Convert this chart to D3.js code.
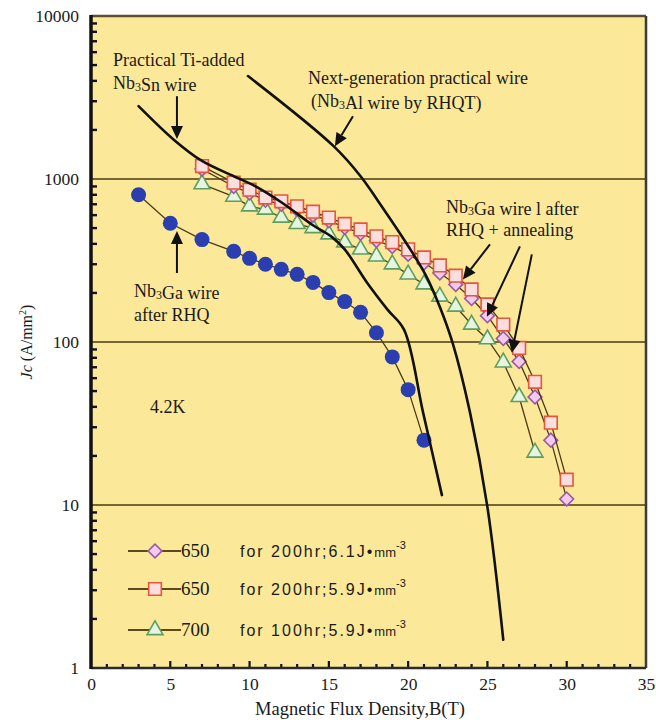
<!DOCTYPE html>
<html>
<head>
<meta charset="utf-8">
<script src="https://cdn.jsdelivr.net/npm/d3@7"></script>
<style>
body { margin: 0; background: #fff; }
</style>
</head>
<body>
<svg width="656" height="720" style='font-family: "Liberation Serif", "Times New Roman", serif;'></svg>
<script>
// Nb3Ga wire after RHQ (blue circles)
var rhqB = [3, 5, 7, 9, 10, 11, 12, 13, 14, 15, 16, 17, 18, 19, 20, 21];
var rhqJ = [800, 535, 425, 360, 326, 300, 279, 260, 232, 201, 177, 152, 114, 81, 51, 25];

// 650 for 200hr, 5.9 J/mm3 (squares)
var sqB = [7, 9, 10, 11, 12, 13, 14, 15, 16, 17, 18, 19, 20, 21, 22, 23, 24, 25, 26, 27, 28, 29, 30];
var sqJ = [1200, 950, 860, 770, 730, 680, 630, 580, 530, 490, 445, 410, 370, 330, 295, 255, 210, 170, 128, 92, 57, 32, 14.3];

// 650 for 200hr, 6.1 J/mm3 (diamonds)
var diaB = [7, 9, 10, 11, 12, 13, 14, 15, 16, 17, 18, 19, 20, 21, 22, 23, 24, 25, 26, 27, 28, 29, 30];
var diaJ = [1150, 900, 820, 740, 700, 650, 600, 555, 505, 465, 420, 385, 345, 305, 265, 225, 185, 145, 105, 76, 46, 25, 10.9];

// 700 for 100hr, 5.9 J/mm3 (triangles)
var triB = [7, 9, 10, 11, 12, 13, 14, 15, 16, 17, 18, 19, 20, 21, 22, 23, 24, 25, 26, 27, 28];
var triJ = [930, 780, 680, 650, 580, 530, 500, 458, 408, 370, 335, 300, 260, 226, 190, 165, 128, 104, 75, 46, 21];

// practical Ti-added Nb3Sn wire (black curve)
var snB = [3, 5.2, 7, 9, 10.2, 12, 14, 15.2, 16, 17.4, 18.7, 19.74, 20.94, 22.13];
var snJ = [2800, 1750, 1290, 1040, 920, 720, 520, 440, 370, 232, 158, 119, 37, 11.5];

// next-generation Nb3Al wire by RHQT (black curve)
var alB = [9.9, 15.3, 17, 18.1, 20, 21.1, 22, 22.8, 23.9, 25, 26];
var alJ = [4280, 1590, 1040, 733, 388, 258, 164, 99, 37, 9.7, 1.49];

var xTicks = [0, 5, 10, 15, 20, 25, 30, 35];
var yTicks = [1, 10, 100, 1000, 10000];

var legendTemps = ['650', '650', '700'];
var legendTexts = ['for 200hr;6.1J\u2022', 'for 200hr;5.9J\u2022', 'for 100hr;5.9J\u2022'];

var serif = '"Liberation Serif", "Times New Roman", serif';
var sans = '"Liberation Sans", Arial, sans-serif';

var svg = d3.select('svg');

var x = d3.scaleLinear().domain([0, 35]).range([91, 646]);
var y = d3.scaleLog().domain([1, 10000]).range([668, 16]);

var zip = function(a, b) { return a.map(function(v, i) { return [v, b[i]]; }); };

// plot background
svg.append('rect')
    .attr('x', x(0)).attr('y', y(10000))
    .attr('width', x(35) - x(0)).attr('height', y(1) - y(10000))
    .attr('fill', '#fbe898');

// horizontal grid lines at 10, 100, 1000
svg.append('g').selectAll('line')
    .data([10, 100, 1000])
    .enter().append('line')
    .attr('x1', x(0)).attr('x2', x(35))
    .attr('y1', function(d) { return y(d); })
    .attr('y2', function(d) { return y(d); })
    .attr('stroke', '#4a3b12').attr('stroke-width', 1.6);

// minor ticks on left axis (inside)
var minorY = [];
[1, 10, 100, 1000].forEach(function(dec) {
    for (var k = 2; k <= 9; k++) minorY.push(dec * k);
});
svg.append('g').selectAll('line')
    .data(minorY)
    .enter().append('line')
    .attr('x1', x(0)).attr('x2', x(0) + 6)
    .attr('y1', function(d) { return y(d); })
    .attr('y2', function(d) { return y(d); })
    .attr('stroke', '#111').attr('stroke-width', 2.4);

// ticks on bottom axis (inside)
svg.append('g').selectAll('line')
    .data(d3.range(1, 35))
    .enter().append('line')
    .attr('x1', function(d) { return x(d); })
    .attr('x2', function(d) { return x(d); })
    .attr('y1', y(1))
    .attr('y2', function(d) { return y(1) - (d % 5 === 0 ? 7 : 4); })
    .attr('stroke', '#111').attr('stroke-width', 2.2);

// axes labels
var yAxis = d3.axisLeft(y).tickValues(yTicks).tickFormat(d3.format('d')).tickSize(0).tickPadding(12);
var yG = svg.append('g').attr('transform', 'translate(' + x(0) + ',0)').call(yAxis);
yG.select('.domain').remove();
yG.selectAll('text').style('font-size', '17.5px').style('font-family', serif).attr('fill', '#1a1a1a');

var xAxis = d3.axisBottom(x).tickValues(xTicks).tickSize(0).tickPadding(10);
var xG = svg.append('g').attr('transform', 'translate(0,' + y(1) + ')').call(xAxis);
xG.select('.domain').remove();
xG.selectAll('text').style('font-size', '17.5px').style('font-family', serif).attr('fill', '#1a1a1a');

svg.append('text')
    .attr('x', 360).attr('y', 715)
    .attr('text-anchor', 'middle')
    .style('font-size', '18.5px')
    .attr('fill', '#1a1a1a')
    .text('Magnetic Flux Density,B(T)');

var yl = svg.append('text')
    .attr('transform', 'translate(32,342) rotate(-90)')
    .attr('text-anchor', 'middle')
    .attr('fill', '#1a1a1a')
    .style('font-size', '16px');
yl.append('tspan').attr('font-style', 'italic').text('Jc');
yl.append('tspan').text(' (A/mm');
yl.append('tspan').style('font-size', '10px').attr('dy', -6).text('2');
yl.append('tspan').attr('dy', 6).text(')');

var line = d3.line()
    .x(function(d) { return x(d[0]); })
    .y(function(d) { return y(d[1]); });

var linkColor = '#4a3b1a';

// marker shapes
var sqPath = d3.symbol().type(d3.symbolSquare).size(160);
var triPath = d3.symbol().type(d3.symbolTriangle).size(110);
var diaPath = d3.symbol().type(d3.symbolSquare).size(95);
var circR = 7.5;

var styles = {
    dia: { fill: '#f3c9ef', stroke: '#9a5aa2' },
    sq: { fill: '#fcdede', stroke: '#e5563a' },
    tri: { fill: '#e6f4e2', stroke: '#5e9f5e' }
};

function drawSeries(data, kind) {
    svg.append('path')
        .datum(data)
        .attr('d', line)
        .attr('fill', 'none')
        .attr('stroke', linkColor)
        .attr('stroke-width', 1.3);
    var g = svg.append('g');
    var m = g.selectAll('path')
        .data(data)
        .enter().append('path')
        .attr('fill', styles[kind].fill)
        .attr('stroke', styles[kind].stroke)
        .attr('stroke-width', 1.6);
    if (kind === 'sq') {
        m.attr('d', sqPath).attr('transform', function(d) { return 'translate(' + x(d[0]) + ',' + y(d[1]) + ')'; });
    } else if (kind === 'tri') {
        m.attr('d', triPath).attr('transform', function(d) { return 'translate(' + x(d[0]) + ',' + y(d[1]) + ')'; });
    } else {
        m.attr('d', diaPath).attr('transform', function(d) { return 'translate(' + x(d[0]) + ',' + y(d[1]) + ') rotate(45)'; });
    }
}

// Nb3Ga after RHQ
svg.append('path')
    .datum(zip(rhqB, rhqJ))
    .attr('d', line)
    .attr('fill', 'none')
    .attr('stroke', linkColor)
    .attr('stroke-width', 1.3);
svg.append('g').selectAll('circle')
    .data(zip(rhqB, rhqJ))
    .enter().append('circle')
    .attr('cx', function(d) { return x(d[0]); })
    .attr('cy', function(d) { return y(d[1]); })
    .attr('r', circR)
    .attr('fill', '#2a3eb0');

drawSeries(zip(triB, triJ), 'tri');
drawSeries(zip(diaB, diaJ), 'dia');
drawSeries(zip(sqB, sqJ), 'sq');

// black curves
var curve = d3.line()
    .x(function(d) { return x(d[0]); })
    .y(function(d) { return y(d[1]); })
    .curve(d3.curveCatmullRom.alpha(0.5));

[zip(snB, snJ), zip(alB, alJ)].forEach(function(c) {
    svg.append('path')
        .datum(c)
        .attr('d', curve)
        .attr('fill', 'none')
        .attr('stroke', '#111')
        .attr('stroke-width', 2.6)
        .attr('stroke-linecap', 'round');
});

// annotation arrows, in data units [B0, J0, B1, J1], head at the second point
var arrows = [
    [5.42, 3220, 5.42, 1760],
    [16.52, 2430, 15.38, 1590],
    [5.42, 265, 5.42, 480],
    [25.16, 397, 23.45, 242],
    [27.05, 386, 24.97, 143],
    [27.8, 345, 26.54, 86]
];

arrows.forEach(function(a) {
    var x0 = x(a[0]), y0 = y(a[1]), x1 = x(a[2]), y1 = y(a[3]);
    var ang = Math.atan2(y1 - y0, x1 - x0);
    var hl = 13, hw = 6;
    var bx = x1 - hl * Math.cos(ang), by = y1 - hl * Math.sin(ang);
    svg.append('line')
        .attr('x1', x0).attr('y1', y0).attr('x2', bx).attr('y2', by)
        .attr('stroke', '#111').attr('stroke-width', 2);
    svg.append('path')
        .attr('d', 'M' + x1 + ',' + y1 +
            'L' + (bx + hw * Math.sin(ang)) + ',' + (by - hw * Math.cos(ang)) +
            'L' + (bx - hw * Math.sin(ang)) + ',' + (by + hw * Math.cos(ang)) + 'Z')
        .attr('fill', '#111');
});

// annotation texts
function label(px, py, parts) {
    var t = svg.append('text').attr('x', px).attr('y', py)
        .style('font-size', '18px').attr('fill', '#1a1a1a');
    parts.forEach(function(p) {
        if (p === '3') {
            t.append('tspan').style('font-size', '12px').attr('dy', 2).text('3');
            t.append('tspan').attr('dy', -2).text('');
        } else {
            t.append('tspan').text(p);
        }
    });
}

label(113, 66, ['Practical Ti-added']);
label(113, 89, ['Nb', '3', 'Sn wire']);
label(308, 84, ['Next-generation practical wire']);
label(311, 107, ['(Nb', '3', 'Al wire by RHQT)']);
label(446, 213, ['Nb', '3', 'Ga wire l after']);
label(446, 236, ['RHQ + annealing']);
label(134, 297, ['Nb', '3', 'Ga wire']);
label(134, 321, ['after RHQ']);
label(150, 413, ['4.2K']);

// legend
var legendRows = [551, 589, 630];
var legendKinds = ['dia', 'sq', 'tri'];
legendRows.forEach(function(ly, i) {
    svg.append('line')
        .attr('x1', 128).attr('x2', 181).attr('y1', ly).attr('y2', ly)
        .attr('stroke', '#5a4a1e').attr('stroke-width', 2.2);
    var k = legendKinds[i];
    var p = k === 'sq' ? sqPath : (k === 'tri' ? triPath : diaPath);
    svg.append('path')
        .attr('d', p)
        .attr('transform', 'translate(155,' + ly + ')' + (k === 'dia' ? ' rotate(45)' : ''))
        .attr('fill', styles[k].fill)
        .attr('stroke', styles[k].stroke)
        .attr('stroke-width', 1.6);
    svg.append('text')
        .attr('x', 181).attr('y', ly + 6)
        .style('font-size', '19px')
        .attr('fill', '#1a1a1a')
        .text(legendTemps[i]);
    var t = svg.append('text')
        .attr('x', 240).attr('y', ly + 6)
        .attr('fill', '#1a1a1a')
        .style('font-family', sans)
        .style('font-size', '16px')
        .style('letter-spacing', '2px');
    t.append('tspan').text(legendTexts[i]);
    t.append('tspan').style('font-size', '13px').style('letter-spacing', '0px').text('mm');
    t.append('tspan').style('font-size', '11px').style('letter-spacing', '0px').attr('dy', -8).text('-3');
});

// frame
svg.append('line').attr('x1', x(0)).attr('x2', x(35)).attr('y1', y(10000)).attr('y2', y(10000))
    .attr('stroke', '#5e4e30').attr('stroke-width', 2.5);
svg.append('line').attr('x1', x(35)).attr('x2', x(35)).attr('y1', y(10000)).attr('y2', y(1))
    .attr('stroke', '#3a3a3a').attr('stroke-width', 2.5);
svg.append('line').attr('x1', x(0)).attr('x2', x(35)).attr('y1', y(1)).attr('y2', y(1))
    .attr('stroke', '#2a2a30').attr('stroke-width', 2.5);
svg.append('line').attr('x1', x(0)).attr('x2', x(0)).attr('y1', y(10000) - 1).attr('y2', y(1) + 1)
    .attr('stroke', '#111').attr('stroke-width', 3.5);
</script>
</body>
</html>
